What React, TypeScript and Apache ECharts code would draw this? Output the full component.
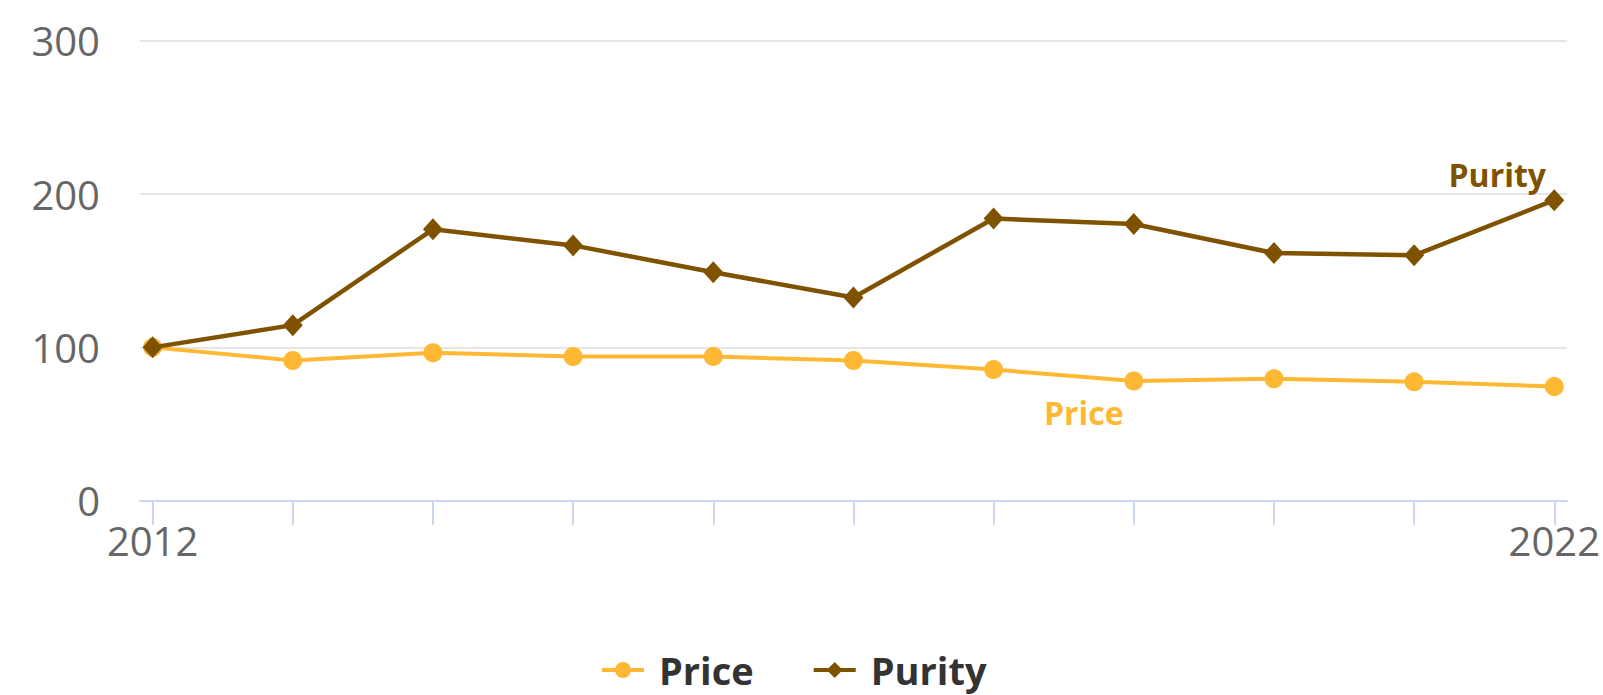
import React, { useEffect, useRef } from "react";
import * as echarts from "echarts";

const years = ["2012", "2013", "2014", "2015", "2016", "2017", "2018", "2019", "2020", "2021", "2022"];
const priceValues = [100, 91.5, 96.5, 94, 94, 91.5, 85.5, 78, 79.5, 77.5, 74.5];
const purityValues = [100, 114.5, 177, 166.5, 149, 132.5, 184, 180.5, 161.5, 160, 196];
const yTicks = [0, 100, 200, 300];
const seriesNames = ["Price", "Purity"];

const PRICE_COLOR = "#FFB833";
const PURITY_COLOR = "#7F5200";
const FONT = "'Open Sans', 'DejaVu Sans', sans-serif";

export default function App() {
  const ref = useRef<HTMLDivElement>(null);

  useEffect(() => {
    if (!ref.current) return;
    const chart = echarts.init(ref.current, undefined, { renderer: "svg" });
    const idx = years.map((_, i) => i);

    const priceData = priceValues.map((v, i) => {
      if (i === 7) {
        return {
          value: [i, v],
          label: {
            show: true,
            formatter: seriesNames[0],
            position: "inside",
            offset: [-50, 31],
            color: PRICE_COLOR,
            fontFamily: FONT,
            fontWeight: "bold",
            fontSize: 32,
          },
        };
      }
      return [i, v];
    });
    const purityData = purityValues.map((v, i) => {
      if (i === purityValues.length - 1) {
        return {
          value: [i, v],
          label: {
            show: true,
            formatter: seriesNames[1],
            position: "inside",
            offset: [-57, -26],
            color: PURITY_COLOR,
            fontFamily: FONT,
            fontWeight: "bold",
            fontSize: 32,
          },
        };
      }
      return [i, v];
    });

    chart.setOption({
      animation: false,
      grid: { left: 140, right: 33, top: 40.7, bottom: 194.3, containLabel: false },
      xAxis: {
        type: "value",
        min: -0.09,
        max: 10.09,
        axisLine: { show: true, lineStyle: { color: "#ccd6eb", width: 2 } },
        axisTick: {
          show: true,
          customValues: idx,
          length: 24,
          lineStyle: { color: "#ccd6eb", width: 2 },
        },
        axisLabel: {
          customValues: [0, years.length - 1],
          formatter: (v: number) => years[Math.round(v)] ?? "",
          color: "#666666",
          fontFamily: FONT,
          fontSize: 40,
          margin: 20,
        },
        splitLine: { show: false },
      },
      yAxis: {
        type: "value",
        min: yTicks[0],
        max: yTicks[yTicks.length - 1],
        interval: 100,
        axisLine: { show: false },
        axisTick: { show: false },
        axisLabel: {
          color: "#666666",
          fontFamily: FONT,
          fontSize: 40,
          margin: 40,
        },
        splitLine: { show: true, lineStyle: { color: "#e6e6e6", width: 2 } },
      },
      legend: {
        data: seriesNames,
        left: 600,
        top: 651,
        padding: 0,
        itemWidth: 42,
        itemHeight: 20,
        itemGap: 58,
        lineStyle: { width: 4 },
        textStyle: {
          color: "#333333",
          fontFamily: FONT,
          fontWeight: "bold",
          fontSize: 38,
          padding: [0, 0, 0, 10],
        },
      },
      series: [
        {
          name: seriesNames[0],
          type: "line",
          data: priceData,
          color: PRICE_COLOR,
          lineStyle: { width: 4, color: PRICE_COLOR },
          symbol: "circle",
          symbolSize: 19,
          itemStyle: { color: PRICE_COLOR },
          z: 2,
        },
        {
          name: seriesNames[1],
          type: "line",
          data: purityData,
          color: PURITY_COLOR,
          lineStyle: { width: 4.5, color: PURITY_COLOR },
          symbol: "diamond",
          symbolSize: [20, 22],
          itemStyle: { color: PURITY_COLOR },
          z: 3,
        },
      ],
    });

    return () => chart.dispose();
  }, []);

  return (
    <div
      ref={ref}
      style={{ position: "absolute", left: 0, top: 0, width: 1603, height: 695 }}
    />
  );
}
